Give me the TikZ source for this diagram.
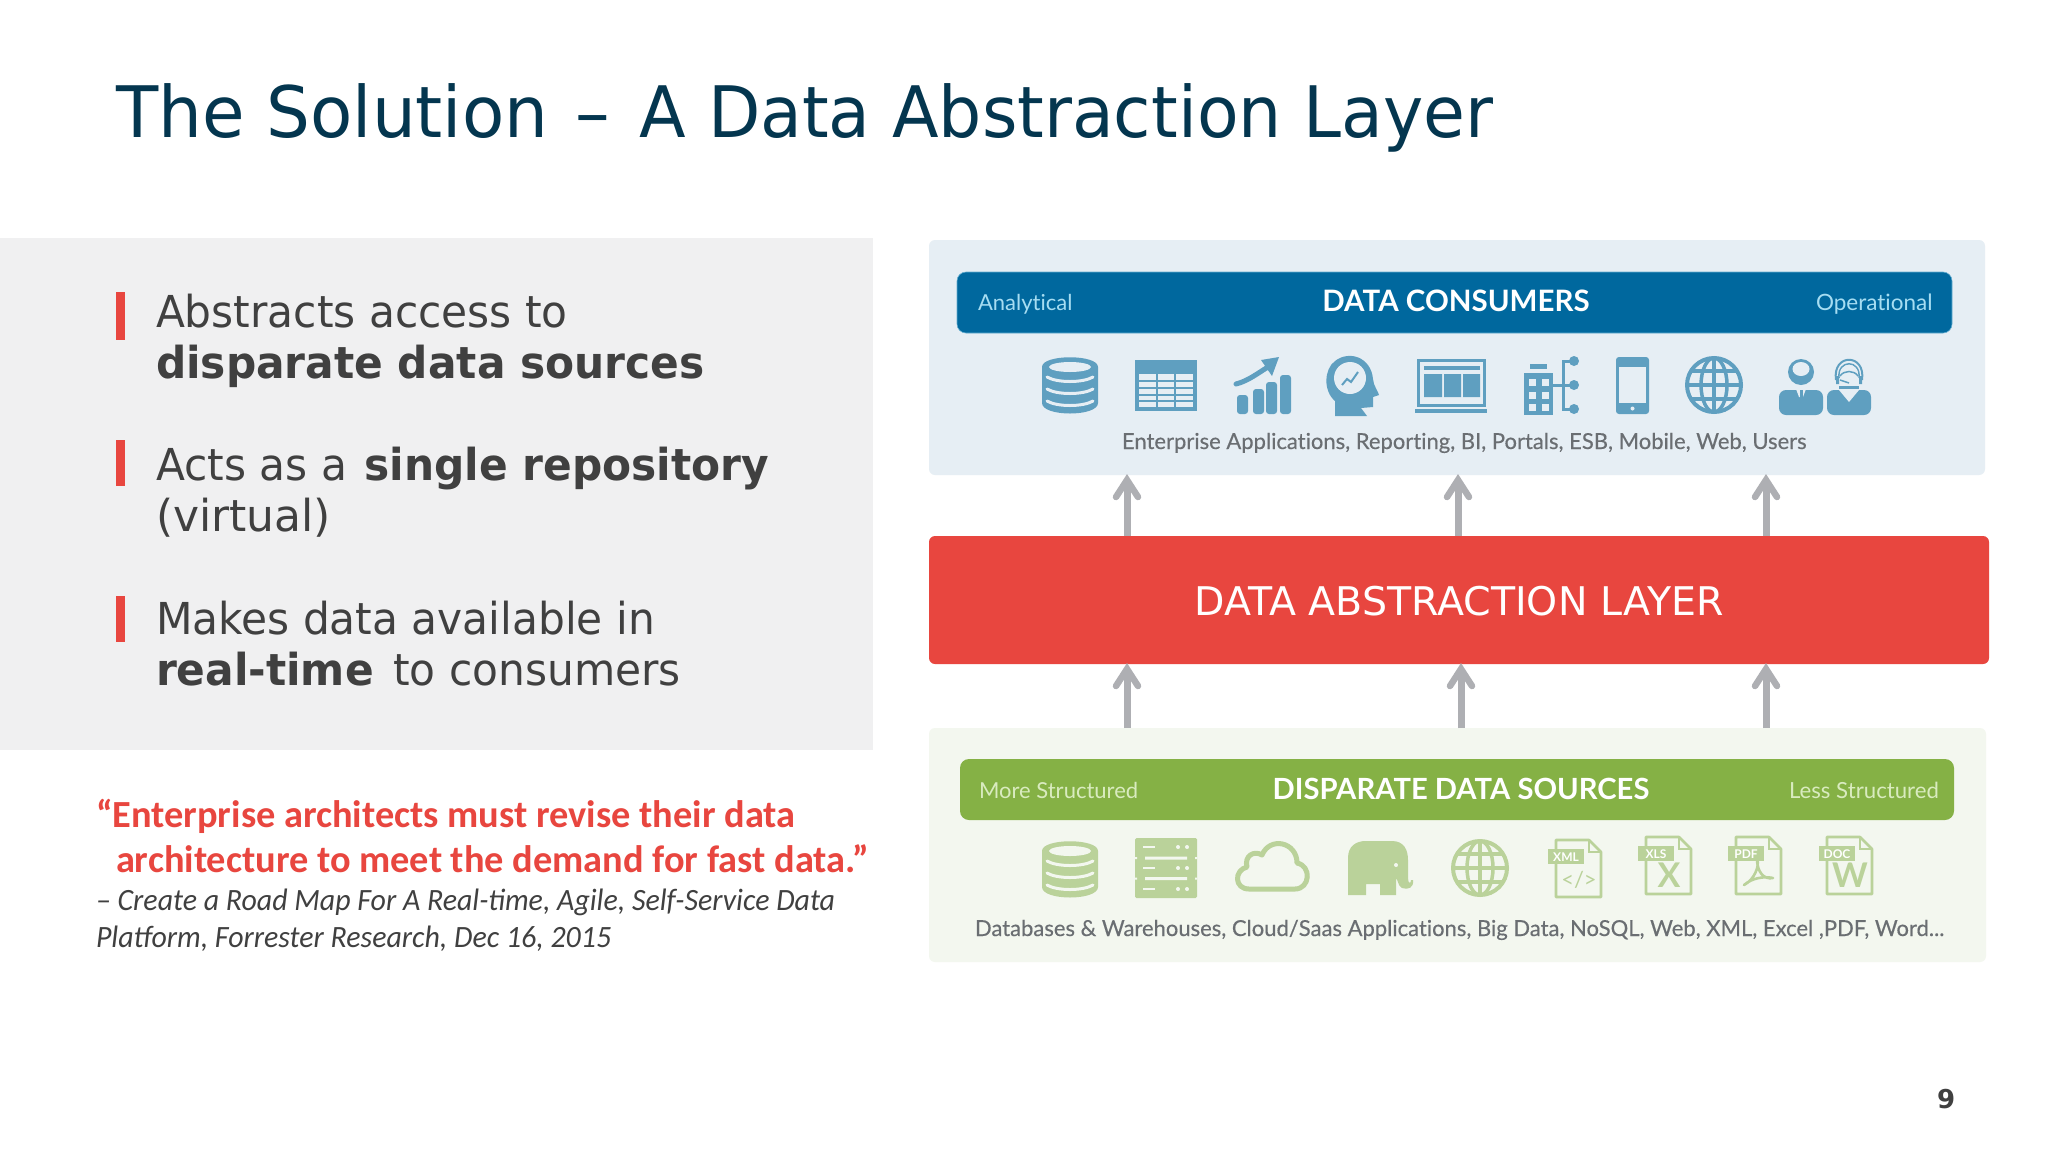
\documentclass[tikz,border=0pt]{standalone}
\usepackage{fontspec}
\setmainfont{DejaVu Sans}
\newfontfamily\vtitle[FakeStretch=0.974]{DejaVu Sans}
\newfontfamily\vtitleb[FakeStretch=0.959]{DejaVu Sans}
\newfontfamily\vbody[FakeStretch=0.962]{DejaVu Sans}
\newfontfamily\carl{Carlito}
\newfontfamily\carli[FakeStretch=0.964]{Carlito}
\newfontfamily\lat[Ligatures=NoCommon]{Lato}
\newfontfamily\latm[Ligatures=NoCommon,FakeBold=0.4]{Lato}
\usetikzlibrary{arrows.meta,calc}
\definecolor{titlec}{HTML}{04364F}
\definecolor{bodyc}{HTML}{404040}
\definecolor{redc}{HTML}{E8463F}
\definecolor{grayp}{HTML}{F0F0F1}
\definecolor{bluep}{HTML}{E6EEF4}
\definecolor{blueh}{HTML}{00689E}
\definecolor{bluei}{HTML}{5F9FC0}
\definecolor{bluet}{HTML}{A6DDF2}
\definecolor{greenp}{HTML}{F3F7EF}
\definecolor{greenh}{HTML}{85B145}
\definecolor{greeni}{HTML}{BAD29A}
\definecolor{greent}{HTML}{D9EBBF}
\definecolor{capc}{HTML}{6A6E72}
\definecolor{arrc}{HTML}{AEAFB3}
\newcommand{\fsz}[1]{\fontsize{#1pt}{#1pt}\selectfont}
\tikzset{
  txt/.style={anchor=base west,inner sep=0pt,outer sep=0pt},
  ctxt/.style={anchor=base,inner sep=0pt,outer sep=0pt},
  panel/.style={rectangle,rounded corners=6pt,inner sep=0pt,outer sep=0pt,anchor=north west},
  hpanel/.style={panel,rounded corners=9pt},
  upar/.style={draw=arrc,line width=7pt},
  uphead/.style={draw=arrc,line width=6.5pt,line cap=round,line join=miter},
  bar/.style={fill=redc},
}
% icons: coordinates are pixels from the icon's top-left corner
\newcommand{\dbicon}[4]{\begin{scope}[shift={(#1,#2)}]
  \fill[#3] (0,10) .. controls (0,-3) and (56,-3) .. (56,10) -- (56,46) .. controls (56,60) and (0,60) .. (0,46) -- cycle;
  \fill[#4] (28,10) ellipse (21 and 5);
  \foreach \yy in {20,32,44} \draw[#4,line width=3pt,line cap=round] (5,\yy) .. controls (15,\yy+6) and (41,\yy+6) .. (51,\yy);
\end{scope}}
\newcommand{\globeicon}[4]{\begin{scope}[shift={(#1,#2)}]
  \draw[#3,line width=4pt] (29,29) circle (27);
  \draw[#3,line width=3.5pt] (29,29) ellipse (13 and 27);
  \draw[#3,line width=3.5pt] (29,2) -- (29,56) (2,29) -- (56,29) (6,15) -- (52,15) (6,43) -- (52,43);
\end{scope}}
\newcommand{\docicon}[6]{\begin{scope}[shift={(#1,#2)}]
  \draw[greeni,line width=2.6pt,line join=round] (8,1) -- (41,1) -- (53,13) -- (53,58) -- (8,58) -- cycle;
  \draw[greeni,line width=2pt] (41,1) -- (41,13) -- (53,13);
  \fill[greeni] (0,10) rectangle (36,25);
  \node[ctxt,text=white] (#5) at (18,22) {\lat\bfseries\fsz{12}#3};
  \node[ctxt,text=greeni] (#5b) at (31,51) {\lat\bfseries#4};
  #6
\end{scope}}
\newcommand{\uparr}[3]{% #1 from-node, #2 to-node, #3 x coordinate name
  \coordinate (tip) at ($(#2.south -| #3)+(0,5)$);
  \draw[upar] (#1.north -| #3) -- (tip);
  \draw[uphead] ($(tip)+(-11,17)$) -- (tip) -- ($(tip)+(11,17)$);
}
\begin{document}
\begin{tikzpicture}[x=1pt,y=-1pt]
\useasboundingbox (0,0) rectangle (2048,1152);
\fill[white] (0,0) rectangle (2048,1152);
% title
\node[txt,text=titlec] (title) at (116,137) {\fsz{71}\vtitle The Solution\hspace{5pt} –\hspace{8pt} \vtitleb A Data Abstraction Layer};
% left panel
\fill[grayp] (0,238) rectangle (873,750);
\fill[bar] (116,292) rectangle (125,340);
\fill[bar] (116,440) rectangle (125,486);
\fill[bar] (116,596) rectangle (125,642);
\begin{scope}[every node/.style={txt,text=bodyc}]
\node (b1a) at (156,327) {\vbody\fsz{44}Abstracts access to};
\node (b1b) at (156,378) {\vbody\fsz{44}\bfseries disparate data sources};
\node (b2a) at (156,480) {\vbody\fsz{44}Acts as a\hspace{4pt} \bfseries single repository};
\node (b2b) at (156,531) {\fsz{44}(virtual)};
\node (b3a) at (156,634) {\vbody\fsz{44}Makes data available in};
\node (b3b) at (156,685) {\vbody\fsz{44}\textbf{real-time}\hspace{6pt} to consumers};
\end{scope}
% quote
\node[txt,text=redc] (q1) at (96,827) {\carl\bfseries\fsz{38.35}“Enterprise architects must revise their data};
\node[txt,text=redc] (q2) at (116,872) {\carl\bfseries\fsz{38.35}architecture to meet the demand for fast data.”};
\node[txt,text=bodyc] (q3) at (96,910) {\carli\itshape\fsz{31}– Create a Road Map For A Real-time, Agile, Self-Service Data};
\node[txt,text=bodyc] (q4) at (96,947) {\carli\itshape\fsz{31}Platform, Forrester Research, Dec 16, 2015};
% panels
\node[panel,fill=bluep,minimum width=1056pt,minimum height=235pt] (blue) at (929,240) {};
\node[panel,fill=redc,minimum width=1060pt,minimum height=128pt] (red) at (929,536) {};
\node[panel,fill=greenp,minimum width=1057pt,minimum height=234pt] (green) at (929,728) {};
\node[hpanel,fill=blueh,draw=bluet!60!blueh,line width=0.6pt,minimum width=995pt,minimum height=61pt] (bhead) at (957,272) {};
\node[hpanel,fill=greenh,minimum width=994pt,minimum height=61pt] (ghead) at (960,759) {};
% arrows
\coordinate (a1) at (1127,0); \coordinate (a2) at (1458,0); \coordinate (a3) at (1766,0);
\coordinate (c1) at (1127,0); \coordinate (c2) at (1461,0); \coordinate (c3) at (1766,0);
\foreach \c in {a1,a2,a3} {\uparr{red}{blue}{\c}}
\foreach \c in {c1,c2,c3} {\uparr{green}{red}{\c}}
% red label
\node[ctxt,text=white] (redl) at (1459,615) {\fsz{39.5}DATA ABSTRACTION LAYER};
% header text
\node[txt,text=bluet] (an) at (978,310) {\lat\fsz{22}Analytical};
\node[ctxt,text=white] (dc) at (1456,311) {\lat\bfseries\fsz{29.5}DATA CONSUMERS};
\node[txt,text=bluet] (op) at (1816,310) {\lat\fsz{22.5}Operational};
\node[txt,text=greent] (ms) at (979,798) {\lat\fsz{22}More Structured};
\node[ctxt,text=white] (ds) at (1461,799) {\lat\bfseries\fsz{29.2}DISPARATE DATA SOURCES};
\node[txt,text=greent] (ls) at (1789,798) {\lat\fsz{22.2}Less Structured};
% captions
\node[txt,text=capc] (bcap) at (1122,449) {\latm\fsz{22}Enterprise Applications, Reporting, BI, Portals, ESB, Mobile, Web, Users};
\node[txt,text=capc] (gcap) at (975,936) {\latm\fsz{22}Databases \& Warehouses, Cloud/Saas Applications, Big Data, NoSQL, Web, XML, Excel ,PDF, Word...};
% page number
\node[txt,text=bodyc] (pg) at (1937,1108) {\bfseries\fsz{26}9};
% ---- blue icons
\dbicon{1042}{357}{bluei}{bluep}
% table
\begin{scope}[shift={(1135,360)}]
 \fill[bluei] (0,0) rectangle (62,51);
 \fill[bluep] (4,14) rectangle (58,47);
 \draw[bluei,line width=1.5pt] (4,21) -- (58,21) (4,28) -- (58,28) (4,35) -- (58,35) (4,41) -- (58,41) (22,14) -- (22,47) (40,14) -- (40,47);
\end{scope}
% chart
\begin{scope}[shift={(1234,357)}]
 \foreach \xx/\tt in {3/38,19/32,32/25,46/18} \fill[bluei,rounded corners=3pt] (\xx,\tt) rectangle (\xx+11,57);
 \draw[bluei,line width=5pt,line cap=round] (2,27) .. controls (14,24) and (24,16) .. (34,10);
 \fill[bluei] (27,3) -- (45,0) -- (38,19) -- cycle;
\end{scope}
% head
\begin{scope}[shift={(1327,355)}]
 \fill[bluei] (8,61) -- (8,46) .. controls (-4,36) and (-3,14) .. (8,6) .. controls (22,-5) and (44,2) .. (46,24) .. controls (46,30) and (52,38) .. (52,40) -- (46,42) -- (46,52) -- (34,53) -- (40,61) -- cycle;
 \fill[bluep] (23,23) circle (16);
 \draw[bluei,line width=2pt] (15,30) -- (20,24) -- (24,27) -- (31,17);
\end{scope}
% laptop
\begin{scope}[shift={(1416,358)}]
 \draw[bluei,line width=3pt] (2,2) rectangle (68,47);
 \fill[bluei] (8,8) rectangle (64,12);
 \fill[bluei] (8,16) rectangle (26,39) (28,16) rectangle (45,39) (47,16) rectangle (64,39);
 \fill[bluei] (-1,51) rectangle (71,55);
\end{scope}
% building
\begin{scope}[shift={(1524,355)}]
 \fill[bluei] (0,18) rectangle (29,60);
 \fill[bluei] (6,9) rectangle (23,14);
 \foreach \xx in {5,18} \foreach \yy in {24,37,49} \fill[bluep] (\xx,\yy) rectangle (\xx+7,\yy+7);
 \draw[bluei,line width=3pt] (29,30) -- (39,30) (50,6) -- (39,6) -- (39,54) -- (50,54) (39,30) -- (50,30);
 \fill[bluei] (50,6) circle (5) (50,30) circle (5) (50,54) circle (5);
\end{scope}
% phone
\begin{scope}[shift={(1616,357)}]
 \fill[bluei,rounded corners=3pt] (0,0) rectangle (33,57);
 \fill[bluep] (3,10) rectangle (30,46);
 \fill[bluep] (16.5,51.5) circle (2);
\end{scope}
\globeicon{1685}{356}{bluei}{bluep}
% users
\begin{scope}[shift={(1779,356)}]
 \fill[bluei,rounded corners=7pt] (0,34) rectangle (44,59);
 \fill[bluep] (17,33) -- (27,33) -- (24,41) -- (20,41) -- cycle;
 \fill[bluei] (20.5,34) rectangle (23.5,44);
 \fill[bluei] (22,16) circle (13);
 \fill[bluep] (22,13) ellipse (8.5 and 7);
 \fill[bluei] (14,18) .. controls (18,22) and (26,22) .. (30,18) -- (28,26) -- (16,26) -- cycle;
 \fill[bluei,rounded corners=7pt] (48,34) rectangle (92,59);
 \fill[bluep] (60,34) -- (70,46) -- (80,34) -- cycle;
 \draw[bluei,line width=2pt] (57,24) .. controls (53,-3) and (87,-3) .. (83,24);
 \draw[bluei,line width=1.5pt] (60,22) .. controls (58,3) and (82,3) .. (80,22);
 \fill[bluep] (70,18) circle (9);
 \draw[bluei,line width=1.5pt] (61,20) .. controls (65,14) and (75,14) .. (79,20) (70,27) -- (61,24);
 \fill[bluei] (57,20) rectangle (60,28) (80,20) rectangle (83,28);
 \fill[bluei] (60,30) rectangle (80,33);
\end{scope}
% ---- green icons
\dbicon{1042}{841}{greeni}{greenp}
% servers
\begin{scope}[shift={(1135,838)}]
 \fill[greeni,rounded corners=1.5pt] (0,0) rectangle (62,60);
 \fill[greenp] (10,18.5) rectangle (52,21.5) (10,39) rectangle (52,42);
 \fill[greenp] (0,19) rectangle (2,21) (60,19) rectangle (62,21) (0,39.5) rectangle (2,41.5) (60,39.5) rectangle (62,41.5);
 \foreach \yy in {9,30,51} {
  \fill[greenp] (8,\yy-1) rectangle (20,\yy+1);
  \fill[greenp] (43,\yy) circle (2) (52,\yy) circle (2);
 }
\end{scope}
% cloud
\draw[greeni,line width=5pt,line join=round] (1249,889) -- (1295,889) .. controls (1310,889) and (1312,866) .. (1297,863) .. controls (1297,842) and (1270,836) .. (1262,855) .. controls (1254,850) and (1244,856) .. (1247,867) .. controls (1234,870) and (1234,889) .. (1249,889) -- cycle;
% elephant
\fill[greeni] (1348,895) -- (1348,858) .. controls (1348,846) and (1356,841) .. (1366,841) -- (1392,841) .. controls (1404,841) and (1408,850) .. (1408,860) -- (1408,878) .. controls (1408,884) and (1411,884) .. (1411,880) -- (1413,880) .. controls (1414,888) and (1408,890) .. (1402,888) .. controls (1398,886) and (1398,880) .. (1396,878) -- (1396,895) -- (1380,895) -- (1380,884) -- (1366,884) -- (1366,895) -- cycle;
\fill[greenp] (1396,865) circle (2);
\globeicon{1451}{839}{greeni}{greenp}
% documents
\docicon{1548}{839}{XML}{\fsz{22}\raisebox{3pt}{\mdseries</>}}{dx}{}
\docicon{1638}{836}{XLS}{\fsz{34}X}{dl}{}
\docicon{1728}{836}{PDF}{}{dp}{\draw[greeni,line width=2.6pt,line join=round] (16,49) .. controls (26,44) and (32,30) .. (29,23) .. controls (29,36) and (36,44) .. (45,42) .. controls (36,40) and (24,42) .. (16,49) -- cycle;}
\docicon{1819}{836}{DOC}{\fsz{34}W}{dd}{}
\end{tikzpicture}
\end{document}
